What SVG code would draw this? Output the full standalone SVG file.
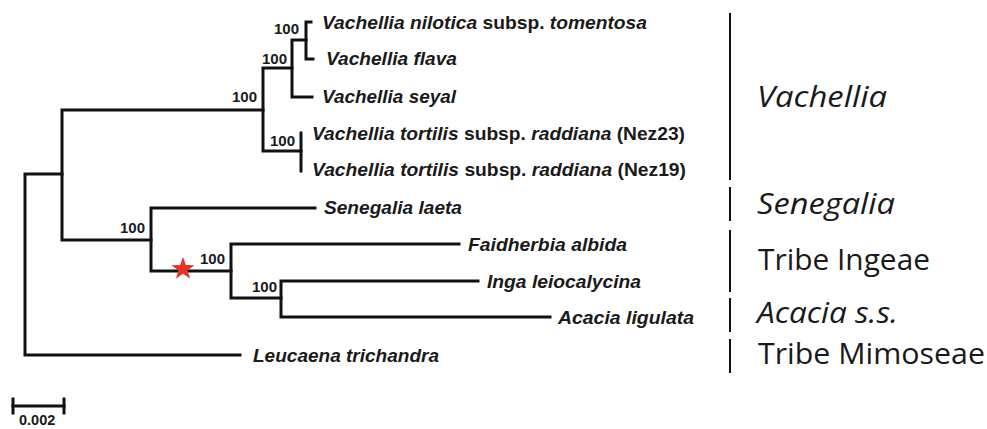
<svg xmlns="http://www.w3.org/2000/svg" width="987" height="429" viewBox="0 0 987 429">
<defs>
<style>
.br{fill:none;stroke:#111;stroke-width:3;stroke-linecap:square}
.bar{fill:none;stroke:#111;stroke-width:2}
.tx{font-family:"Liberation Sans",Arial,sans-serif;font-weight:bold;font-style:italic;font-size:18.5px;fill:#1a1a1a}
.tx .n{font-style:normal}
.bs{font-family:"Liberation Sans",Arial,sans-serif;font-weight:bold;font-size:15px;fill:#1a1a1a;text-anchor:end}
.gr{font-family:"Open Sans","Noto Sans",sans-serif;font-size:30px;fill:#1a1a1a}
.it{font-style:italic}
</style>
</defs>
<rect width="987" height="429" fill="#fff"/>
<g id="connectors">
<path class="br" d="M25,174 V355 M25,174 H62 M25,355 H240"/>
<path class="br" d="M62,110 V240 M62,110 H263 M62,240 H151"/>
<path class="br" d="M263,68 V151 M263,68 H292 M263,151 H301"/>
<path class="br" d="M292,40 V97 M292,40 H306 M292,97 H312"/>
<path class="br" d="M306,22 V59 M306,22 H311 M306,59 H313"/>
<path class="br" d="M301,133 V171"/>
<path class="br" d="M151,208 V271 M151,208 H315 M151,271 H231"/>
<path class="br" d="M231,244 V298 M231,244 H459 M231,298 H281"/>
<path class="br" d="M281,281 V317 M281,281 H478 M281,317 H550"/>
</g>
<g id="star"><polygon points="183,257 185.8,265.1 194.4,265.3 187.6,270.5 190.1,278.7 183,273.8 175.9,278.7 178.4,270.5 171.6,265.3 180.2,265.1" fill="#e3342a"/></g>
<g id="bootstrap">
<text class="bs" x="299" y="34">100</text>
<text class="bs" x="287" y="64">100</text>
<text class="bs" x="257" y="102">100</text>
<text class="bs" x="295" y="146">100</text>
<text class="bs" x="145" y="233">100</text>
<text class="bs" x="225" y="264">100</text>
<text class="bs" x="277" y="292">100</text>
</g>
<g id="taxa">
<text class="tx" id="t1" x="322" y="29" textLength="325" lengthAdjust="spacingAndGlyphs">Vachellia nilotica<tspan class="n"> subsp. </tspan>tomentosa</text>
<text class="tx" id="t2" x="326" y="65" textLength="131" lengthAdjust="spacingAndGlyphs">Vachellia flava</text>
<text class="tx" id="t3" x="322" y="103" textLength="134" lengthAdjust="spacingAndGlyphs">Vachellia seyal</text>
<text class="tx" id="t4" x="312" y="140" textLength="373" lengthAdjust="spacingAndGlyphs">Vachellia tortilis<tspan class="n"> subsp. </tspan>raddiana<tspan class="n"> (Nez23)</tspan></text>
<text class="tx" id="t5" x="312" y="176" textLength="374" lengthAdjust="spacingAndGlyphs">Vachellia tortilis<tspan class="n"> subsp. </tspan>raddiana<tspan class="n"> (Nez19)</tspan></text>
<text class="tx" id="t6" x="324" y="214" textLength="138" lengthAdjust="spacingAndGlyphs">Senegalia laeta</text>
<text class="tx" id="t7" x="468" y="251" textLength="159" lengthAdjust="spacingAndGlyphs">Faidherbia albida</text>
<text class="tx" id="t8" x="487" y="288" textLength="154" lengthAdjust="spacingAndGlyphs">Inga leiocalycina</text>
<text class="tx" id="t9" x="558" y="324" textLength="136" lengthAdjust="spacingAndGlyphs">Acacia ligulata</text>
<text class="tx" id="t10" x="253" y="362" textLength="186" lengthAdjust="spacingAndGlyphs">Leucaena trichandra</text>
</g>
<g id="groups">
<path class="bar" d="M730,13 V180 M730,187 V221 M730,230 V292 M730,298 V332 M730,339 V373"/>
<text class="gr it" x="757" y="107" textLength="130" lengthAdjust="spacingAndGlyphs">Vachellia</text>
<text class="gr it" x="757" y="214" textLength="138" lengthAdjust="spacingAndGlyphs">Senegalia</text>
<text class="gr" x="758" y="270" textLength="172" lengthAdjust="spacingAndGlyphs">Tribe Ingeae</text>
<text class="gr" x="757" y="323" textLength="141" lengthAdjust="spacingAndGlyphs"><tspan class="it">Acacia s.s.</tspan></text>
<text class="gr" x="758" y="364" textLength="227" lengthAdjust="spacingAndGlyphs">Tribe Mimoseae</text>
</g>
<g id="scale">
<path class="br" d="M13,406 H64"/>
<path class="br" d="M13,399 V413 M64,399 V413"/>
<text class="bs" x="19" y="425" style="text-anchor:start;font-size:14.5px">0.002</text>
</g>
</svg>
